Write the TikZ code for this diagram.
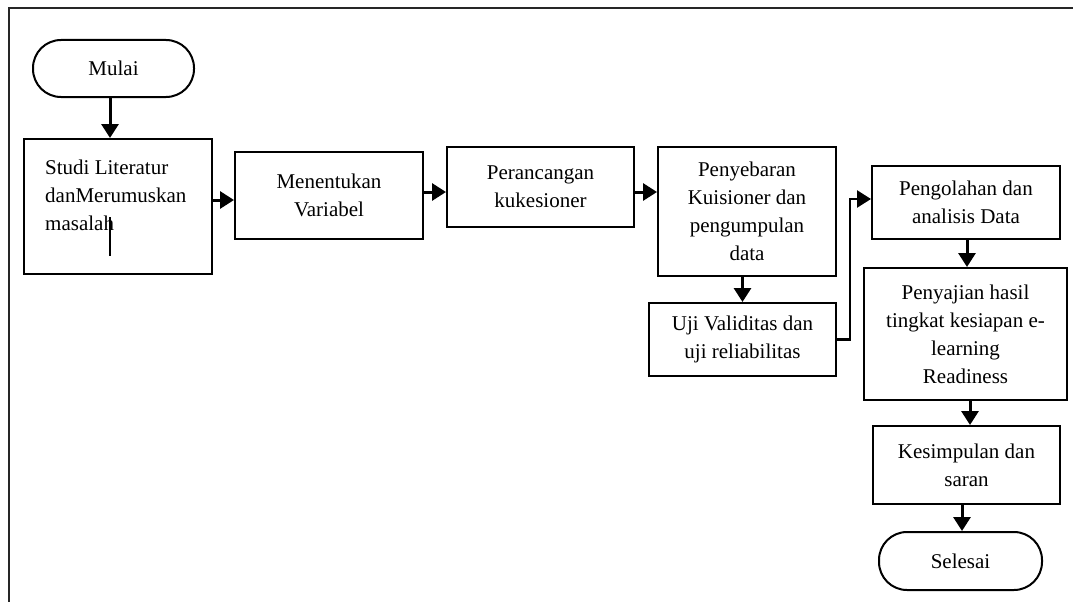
\documentclass[tikz,border=0pt]{standalone}
\usepackage{fontspec}
\setmainfont{Liberation Serif}
\usetikzlibrary{arrows.meta}
\begin{document}
\begin{tikzpicture}[x=1pt,y=-1pt,
  every node/.style={font=\fontsize{21}{28}\selectfont},
  box/.style={draw,line width=2pt,rectangle,align=center,inner sep=0pt},
  term/.style={draw,line width=2pt,rounded corners=28pt,align=center,inner sep=0pt},
  arr/.style={line width=3pt,-{Triangle[length=14pt,width=17pt]}},
  txt/.style={inner sep=0pt,align=left}]
\useasboundingbox (0,0) rectangle (1073,602);
% frame
\draw[line width=2pt,black!85] (9,602) -- (9,8) -- (1073,8);
% nodes
\node[term,minimum width=161pt,minimum height=57pt] (mulai) at (113.5,68.5) {Mulai};
\node[box,minimum width=188pt,minimum height=135pt] (studi) at (118,206.5) {};
\node[txt,anchor=north west] (studitxt) at (45,160) {Studi Literatur\\danMerumuskan\\masalah};
\node[box,minimum width=188pt,minimum height=87pt] (ment) at (329,195.5) {Menentukan\\Variabel};
\node[box,minimum width=187pt,minimum height=80pt] (peran) at (540.5,187) {Perancangan\\kukesioner};
\node[box,minimum width=178pt,minimum height=129pt] (penyeb) at (747,211.5) {Penyebaran\\Kuisioner dan\\pengumpulan\\data};
\node[box,minimum width=187pt,minimum height=73pt] (uji) at (742.5,339.5) {Uji Validitas dan\\uji reliabilitas};
\node[box,minimum width=188pt,minimum height=73pt] (pengol) at (966,202.5) {Pengolahan dan\\analisis Data};
\node[box,minimum width=203pt,minimum height=132pt] (penyaj) at (965.5,334) {Penyajian hasil\\tingkat kesiapan e-\\learning\\Readiness};
\node[box,minimum width=187pt,minimum height=78pt] (kesimp) at (966.5,465) {Kesimpulan dan\\saran};
\node[term,minimum width=163pt,minimum height=58pt] (selesai) at (960.5,561) {Selesai};
% stray line in first box
\coordinate (s1) at (110,217);
\coordinate (s2) at (110,256);
\draw[line width=2pt] (s1) -- (s2);
% connectors
\draw[arr] ([xshift=-3.5pt]mulai.south) -- ([xshift=-3.5pt]mulai.south |- studi.north);
\draw[arr] ([yshift=-4.5pt]ment.west -| studi.east) -- ([yshift=-4.5pt]ment.west);
\draw[arr] ([yshift=3.5pt]ment.east) -- ([yshift=3.5pt]ment.east -| peran.west);
\draw[arr] ([yshift=-5pt]peran.east) -- ([yshift=-5pt]peran.east -| penyeb.west);
\draw[arr] (uji.north |- penyeb.south) -- (uji.north);
\draw[line width=2.5pt,-{Triangle[length=14pt,width=17pt]}] (uji.east) -- ++(13,0) |- ([yshift=3.5pt]pengol.west);
\draw[arr] ([xshift=1pt]pengol.south) -- ([xshift=1pt]pengol.south |- penyaj.north);
\draw[arr] ([xshift=4.5pt]penyaj.south) -- ([xshift=4.5pt]penyaj.south |- kesimp.north);
\draw[arr] ([xshift=-4.5pt]kesimp.south) -- ([xshift=-4.5pt]kesimp.south |- selesai.north);
\end{tikzpicture}
\end{document}
